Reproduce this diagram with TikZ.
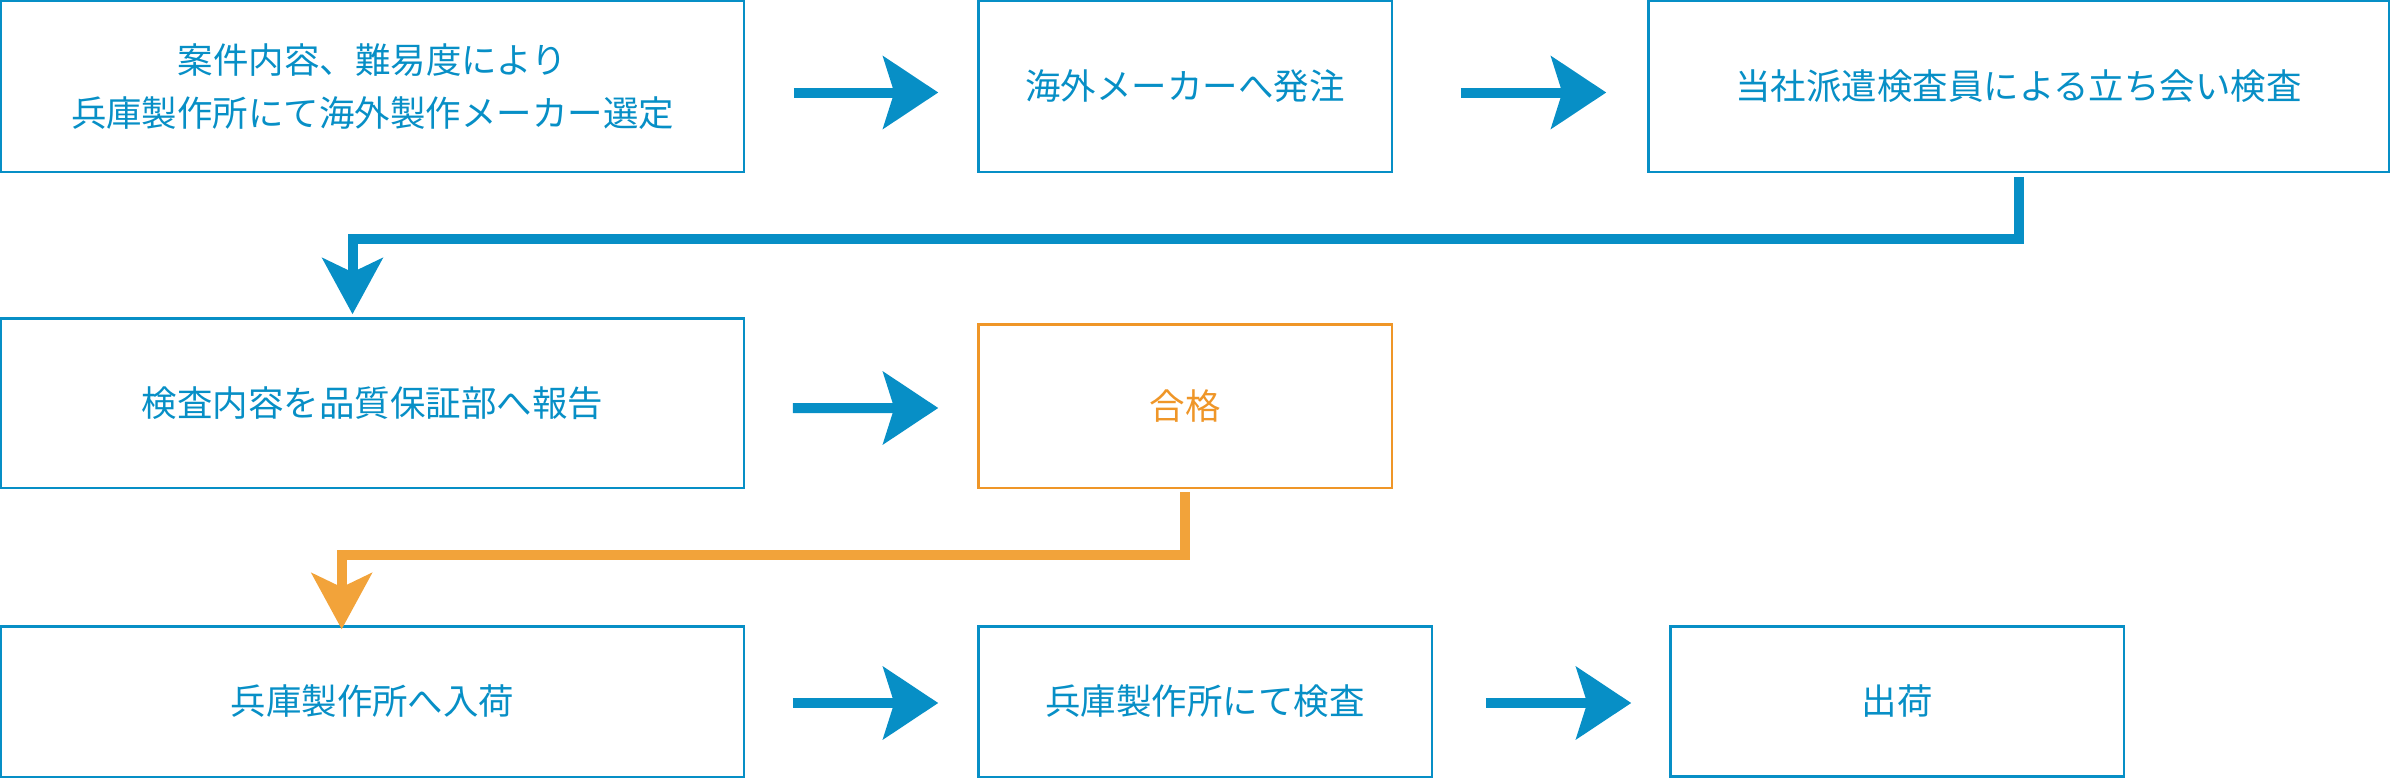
\documentclass[tikz,border=0pt]{standalone}
\usepackage{fontspec}
\setmainfont{Noto Sans CJK JP}
\usetikzlibrary{arrows.meta}
\definecolor{fblue}{RGB}{7,143,198}
\definecolor{fora}{RGB}{239,150,40}
\definecolor{foral}{RGB}{242,163,58}
\begin{document}
\begin{tikzpicture}[x=1bp,y=-1bp,
  box/.style={draw=fblue, line width=2.5bp, text=fblue, inner sep=0pt, outer sep=0pt,
    rectangle, font=\fontsize{35.6}{53.5}\selectfont, align=center},
  orbox/.style={box, draw=fora, text=fora},
  harrow/.style={draw=fblue, line width=10bp, -{Stealth[length=55bp,width=72bp,inset=11bp]}},
  elbow/.style={line width=10bp, -{Stealth[length=56bp,width=60bp,inset=14bp]}}]
\useasboundingbox (0,0) rectangle (2392,779);

% row 1
\node[box, minimum width=742.5bp, minimum height=170.5bp] (b1) at (372.5,86.5)
  {案件内容、難易度により\\兵庫製作所にて海外製作メーカー選定};
\node[box, minimum width=413.5bp, minimum height=170.5bp] (b2) at (1185,86.5)
  {海外メーカーへ発注};
\node[box, minimum width=740.5bp, minimum height=170.5bp] (b3) at (2018.5,86.5)
  {当社派遣検査員による立ち会い検査};

% row 2
\node[box, minimum width=742.5bp, minimum height=169.5bp] (b4) at (372.5,403)
  {検査内容を品質保証部へ報告};
\node[orbox, minimum width=413.5bp, minimum height=163.5bp] (b5) at (1185,406)
  {合格};

% row 3
\node[box, minimum width=742.5bp, minimum height=150.5bp] (b6) at (372.5,701.5)
  {兵庫製作所へ入荷};
\node[box, minimum width=453.5bp, minimum height=150.5bp] (b7) at (1205,701.5)
  {兵庫製作所にて検査};
\node[box, minimum width=453.5bp, minimum height=150bp] (b8) at (1897,701.5)
  {出荷};

% horizontal arrows
\draw[harrow, shorten <=50bp, shorten >=40bp] ([yshift=-6bp]b1.east) -- ([yshift=-6bp]b2.west);
\draw[harrow, shorten <=69bp, shorten >=42bp] ([yshift=-6bp]b2.east) -- ([yshift=-6bp]b3.west);
\draw[harrow, shorten <=49bp, shorten >=40bp] ([yshift=-5bp]b4.east) -- ([yshift=-2bp]b5.west);
\draw[harrow, shorten <=49bp, shorten >=40bp] ([yshift=-1.5bp]b6.east) -- ([yshift=-1.5bp]b7.west);
\draw[harrow, shorten <=54bp, shorten >=39bp] ([yshift=-1.5bp]b7.east) -- ([yshift=-1.5bp]b8.west);

% elbow connectors
\draw[elbow, draw=fblue, shorten <=5bp] (b3.south) -- ++(0,67.5) -| ([xshift=-20bp,yshift=4bp]b4.north);
\draw[elbow, draw=foral, shorten <=4bp] (b5.south) -- ++(0,67) -| ([xshift=-30.8bp,yshift=-3bp]b6.north);
\end{tikzpicture}
\end{document}
